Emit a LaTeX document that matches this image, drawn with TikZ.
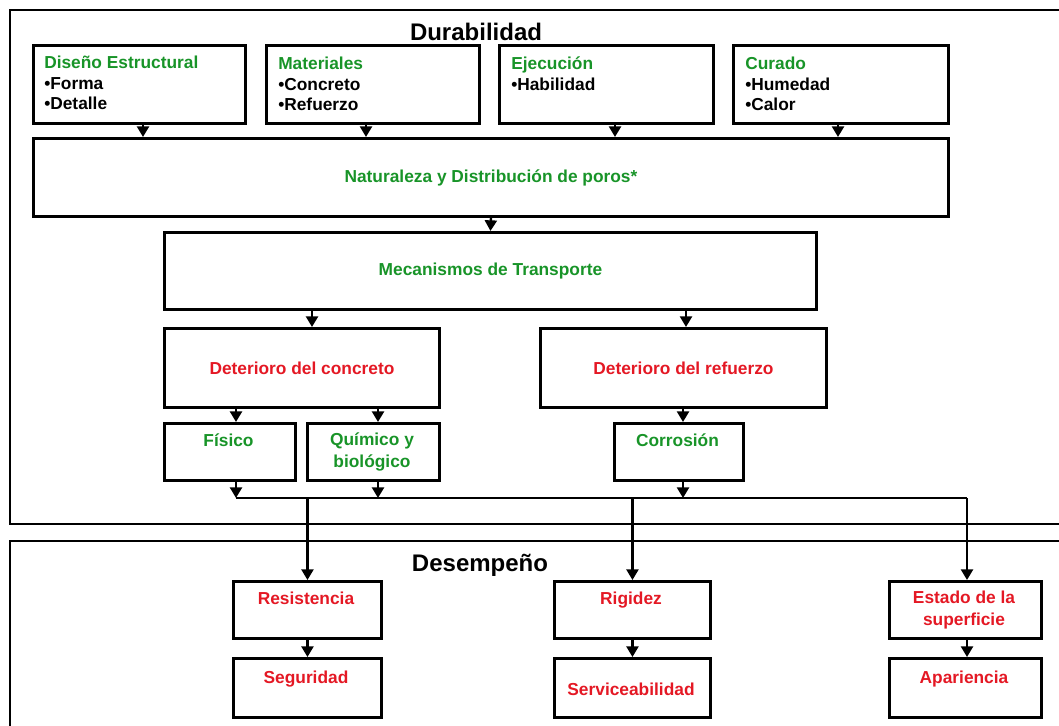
\documentclass[tikz,border=0pt]{standalone}
\usepackage{fontspec}
\setmainfont{Liberation Sans}
\usetikzlibrary{arrows.meta}

\definecolor{verde}{RGB}{24,148,40}
\definecolor{rojo}{RGB}{228,24,36}
\newcommand{\px}{0.75pt}

\tikzset{
	caja/.style={draw, line width=2.2pt, anchor=north west, inner sep=0pt},
	marco/.style={line width=2.1pt},
	flecha/.style={line width=1.8pt, -{Triangle[width=9pt,length=8pt]}},
	linea/.style={line width=1.8pt},
	titulo/.style={font=\fontsize{18}{22}\selectfont\bfseries, inner sep=0pt},
	txtv/.style={text=verde, font=\fontsize{13}{16.5}\selectfont\bfseries, inner sep=0pt, align=center},
	txtr/.style={text=rojo, font=\fontsize{13}{16.5}\selectfont\bfseries, inner sep=0pt, align=center},
	lista/.style={font=\fontsize{13}{15.4}\selectfont\bfseries, inner sep=0pt, align=left, anchor=north west}
}

\begin{document}
\begin{tikzpicture}[x=0.75pt, y=-0.75pt]
			\useasboundingbox (0,0) rectangle (1059,725);

			% outer frames and titles
			\draw[marco]	(1070,10)	--	(10,10)	--	(10,524)	--	(1070,524);
			\draw[marco]	(1070,541)	--	(10,541)	--	(10,735);
			\node[titulo, anchor=base] (durab) at (476,40) {Durabilidad};
			\node[titulo, anchor=base] (desem) at (480,571) {Desempeño};

			% factors
			\node[caja, minimum width=212*\px, minimum height=78*\px] (dis) at (32,44) {};
			\node[caja, minimum width=213*\px, minimum height=78*\px] (mat) at (265,44) {};
			\node[caja, minimum width=214*\px, minimum height=78*\px] (eje) at (498,44) {};
			\node[caja, minimum width=215*\px, minimum height=78*\px] (cur) at (732,44) {};
			\node[lista] (dis-t) at (44,56)		{\textcolor{verde}{Diseño Estructural}\\•Forma\\•Detalle};
			\node[lista] (mat-t) at (278,57)	{\textcolor{verde}{Materiales}\\•Concreto\\•Refuerzo};
			\node[lista] (eje-t) at (511,57)	{\textcolor{verde}{Ejecución}\\•Habilidad};
			\node[lista] (cur-t) at (745,57)	{\textcolor{verde}{Curado}\\•Humedad\\•Calor};

			% pores and transport
			\node[caja, txtv, minimum width=915*\px, minimum height=78*\px] (nat) at (32,137) {Naturaleza y Distribución de poros*};
			\node[caja, txtv, minimum width=652*\px, minimum height=77*\px] (mec) at (163,231) {Mecanismos de Transporte};

			% deterioration
			\node[caja, txtr, minimum width=275*\px, minimum height=79*\px] (con) at (163,327) {Deterioro del concreto};
			\node[caja, txtr, minimum width=286*\px, minimum height=79*\px] (ref) at (539,327) {Deterioro del refuerzo};
			\node[caja, minimum width=131*\px, minimum height=57*\px] (fis) at (163,422) {};
			\node[caja, minimum width=132*\px, minimum height=57*\px] (qui) at (306,422) {};
			\node[caja, minimum width=129*\px, minimum height=57*\px] (cor) at (613,422) {};
			\node[txtv, anchor=base] (fis-t) at (228.5,446) {Físico};
			\node[txtv, anchor=north] (qui-t) at (372,433) {Químico y\\biológico};
			\node[txtv, anchor=base] (cor-t) at (677.5,446) {Corrosión};

			% performance
			\node[caja, minimum width=148*\px, minimum height=57*\px] (res) at (232,580) {};
			\node[caja, minimum width=148*\px, minimum height=59*\px] (seg) at (232,657) {};
			\node[caja, minimum width=156*\px, minimum height=57*\px] (rig) at (553,580) {};
			\node[caja, minimum width=156*\px, minimum height=59*\px] (ser) at (553,657) {};
			\node[caja, minimum width=152*\px, minimum height=57*\px] (est) at (888,580) {};
			\node[caja, minimum width=152*\px, minimum height=59*\px] (apa) at (888,657) {};
			\node[txtr, anchor=base] (res-t) at (306,604) {Resistencia};
			\node[txtr, anchor=base] (seg-t) at (306,683) {Seguridad};
			\node[txtr, anchor=base] (rig-t) at (631,604) {Rigidez};
			\node[txtr, anchor=base] (ser-t) at (631,695) {Serviceabilidad};
			\node[txtr, anchor=north] (est-t) at (964,591) {Estado de la\\superficie};
			\node[txtr, anchor=base] (apa-t) at (964,683) {Apariencia};

			% arrow columns
			\coordinate (a1) at (143,0);
			\coordinate (a2) at (366,0);
			\coordinate (a3) at (615,0);
			\coordinate (a4) at (838,0);
			\coordinate (b1) at (312,0);
			\coordinate (b2) at (686,0);
			\coordinate (c1) at (236,0);
			\coordinate (c2) at (378,0);
			\coordinate (c3) at (683,0);
			\coordinate (busi) at (236,498);
			\coordinate (busd) at (967,498);

			% connectors
			\draw[flecha]	(dis.south -| a1)	--	(nat.north -| a1);
			\draw[flecha]	(mat.south -| a2)	--	(nat.north -| a2);
			\draw[flecha]	(eje.south -| a3)	--	(nat.north -| a3);
			\draw[flecha]	(cur.south -| a4)	--	(nat.north -| a4);
			\draw[flecha]	(nat.south)	--	(mec.north);
			\draw[flecha]	(mec.south -| b1)	--	(con.north -| b1);
			\draw[flecha]	(mec.south -| b2)	--	(ref.north -| b2);
			\draw[flecha]	(con.south -| c1)	--	(fis.north -| c1);
			\draw[flecha]	(con.south -| c2)	--	(qui.north -| c2);
			\draw[flecha]	(ref.south -| c3)	--	(cor.north -| c3);
			\draw[flecha]	(fis.south -| c1)	--	(busi);
			\draw[flecha]	(qui.south -| c2)	--	(c2 |- busi);
			\draw[flecha]	(cor.south -| c3)	--	(c3 |- busi);
			\draw[linea]	(busi)	--	(busd);
			\draw[flecha]	(res.north |- busi)	--	(res.north);
			\draw[flecha]	(rig.north |- busi)	--	(rig.north);
			\draw[flecha]	(busd)	--	(est.north -| busd);
			\draw[flecha]	(res.south)	--	(seg.north);
			\draw[flecha]	(rig.south)	--	(ser.north);
			\draw[flecha]	(est.south -| busd)	--	(apa.north -| busd);
\end{tikzpicture}
\end{document}
